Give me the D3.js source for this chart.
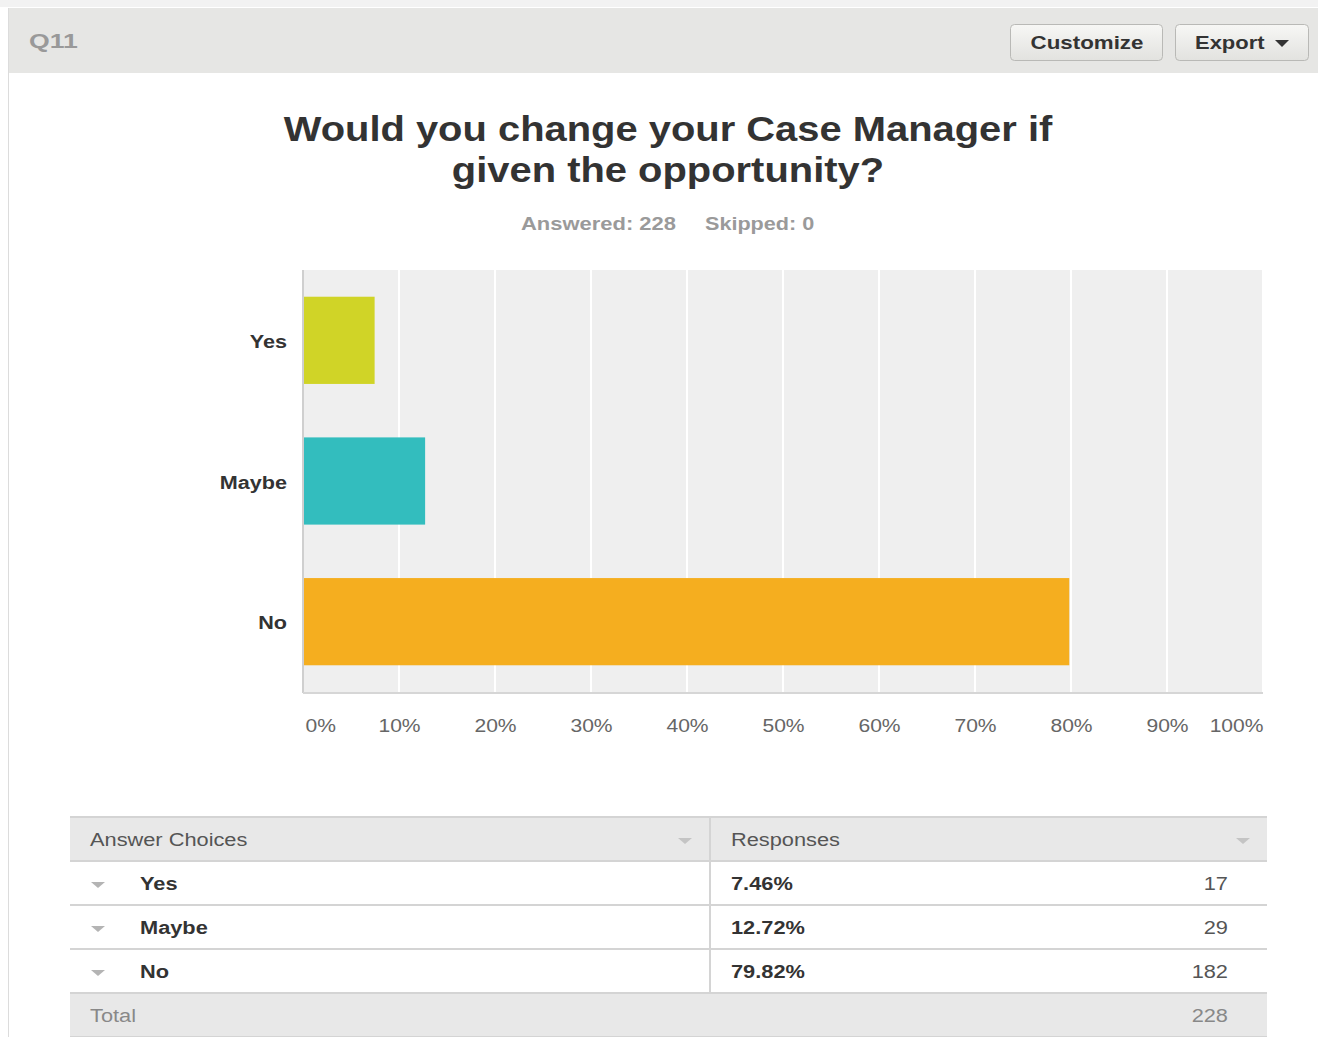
<!DOCTYPE html>
<html><head><meta charset="utf-8">
<script src="https://cdn.jsdelivr.net/npm/d3@7"></script>
<style>
html,body{margin:0;padding:0;background:#fff;}
svg{display:block;font-family:"Liberation Sans",Arial,sans-serif;}
</style></head>
<body>
<svg id="chart" width="1318" height="1037"></svg>
<script>
const categories = ["Yes", "Maybe", "No"];
const percents = [7.46, 12.72, 79.82];
const counts = [17, 29, 182];
const total = 228;
const skipped = 0;
const xTicks = [0, 10, 20, 30, 40, 50, 60, 70, 80, 90, 100];
const barColors = ["#d0d427", "#33bdbe", "#f5ae1f"];
const questionId = "Q11";
const titleLines = ["Would you change your Case Manager if", "given the opportunity?"];

const svg = d3.select("#chart");

// widen text horizontally (reference glyphs are stretched)
function stretch(sel, f){
  sel.each(function(){
    const w = this.getComputedTextLength();
    d3.select(this).attr("textLength", w*f).attr("lengthAdjust","spacingAndGlyphs");
  });
  return sel;
}

// page frame
svg.append("rect").attr("x",0).attr("y",0).attr("width",1318).attr("height",7).attr("fill","#f2f2f2");
svg.append("rect").attr("x",8).attr("y",8).attr("width",1310).attr("height",65).attr("fill","#e6e6e4");
svg.append("line").attr("x1",8.5).attr("x2",8.5).attr("y1",8).attr("y2",1037).attr("stroke","#dcdcdc");
stretch(svg.append("text").attr("x",29).attr("y",48).attr("fill","#999").attr("font-size",21).attr("font-weight","bold").text(questionId), 1.27);

// buttons
const defs = svg.append("defs");
const grad = defs.append("linearGradient").attr("id","btn").attr("x1",0).attr("x2",0).attr("y1",0).attr("y2",1);
grad.append("stop").attr("offset","0%").attr("stop-color","#f7f7f5");
grad.append("stop").attr("offset","100%").attr("stop-color","#e2e2df");
const buttons = [{label:"Customize", x:1010, w:152},{label:"Export", x:1175, w:133}];
buttons.forEach(b=>{
  svg.append("rect").attr("x",b.x+0.5).attr("y",24.5).attr("width",b.w).attr("height",36).attr("rx",4)
    .attr("fill","url(#btn)").attr("stroke","#b9b9b6");
});
stretch(svg.append("text").attr("x",1087).attr("y",49).attr("text-anchor","middle").attr("font-size",18).attr("fill","#333").attr("font-weight","bold").text("Customize"), 1.24);
stretch(svg.append("text").attr("x",1195).attr("y",49).attr("font-size",18).attr("fill","#333").attr("font-weight","bold").text("Export"), 1.22);
svg.append("path").attr("d","M1275,40 L1289,40 L1282,47 Z").attr("fill","#333");

// title
stretch(svg.append("text").attr("x",668).attr("y",141).attr("text-anchor","middle").attr("font-size",35).attr("font-weight","bold").attr("fill","#333").text(titleLines[0]), 1.14);
stretch(svg.append("text").attr("x",668).attr("y",182).attr("text-anchor","middle").attr("font-size",35).attr("font-weight","bold").attr("fill","#333").text(titleLines[1]), 1.14);
stretch(svg.append("text").attr("x",521).attr("y",230).attr("font-size",18).attr("font-weight","bold").attr("fill","#9a9a9a").text("Answered: " + total), 1.22);
stretch(svg.append("text").attr("x",705).attr("y",230).attr("font-size",18).attr("font-weight","bold").attr("fill","#9a9a9a").text("Skipped: " + skipped), 1.2);

// chart
const plot = {left:303, right:1263, top:270, bottom:692};
const x = d3.scaleLinear().domain([0,100]).range([plot.left, plot.right]);
const y = d3.scaleBand().domain(categories).range([plot.top, plot.bottom]).paddingInner(0.38).paddingOuter(0.19);

svg.append("rect").attr("x",plot.left).attr("y",plot.top).attr("width",plot.right-plot.left).attr("height",plot.bottom-plot.top).attr("fill","#efefef");
svg.append("g").selectAll("line").data(xTicks.slice(1)).join("line")
  .attr("x1",d=>x(d)).attr("x2",d=>x(d)).attr("y1",plot.top).attr("y2",plot.bottom)
  .attr("stroke","#fff").attr("stroke-width",2);

svg.append("g").selectAll("rect").data(categories).join("rect")
  .attr("x",x(0)+1).attr("y",d=>y(d))
  .attr("width",(d,i)=>x(percents[i])-x(0)-1).attr("height",y.bandwidth())
  .attr("fill",(d,i)=>barColors[i]);

// axis lines
svg.append("line").attr("x1",plot.left).attr("x2",plot.left).attr("y1",plot.top).attr("y2",plot.bottom+1).attr("stroke","#cfcfcf").attr("stroke-width",2);
svg.append("line").attr("x1",plot.left).attr("x2",plot.right).attr("y1",plot.bottom+1).attr("y2",plot.bottom+1).attr("stroke","#d6d6d6").attr("stroke-width",2);

// y labels
const yAxis = d3.axisLeft(y).tickSize(0).tickPadding(16);
const yg = svg.append("g").attr("transform",`translate(${plot.left},2)`).call(yAxis);
yg.select(".domain").remove();
stretch(yg.selectAll("text").attr("font-size",18).attr("font-weight","bold").attr("fill","#333").attr("font-family","Liberation Sans, Arial, sans-serif"), 1.2);

// x labels
const xAxis = d3.axisBottom(x).tickValues(xTicks).tickSize(0).tickPadding(0).tickFormat(d=>d+"%");
const xg = svg.append("g").attr("transform",`translate(0,${plot.bottom+40})`).call(xAxis);
xg.select(".domain").remove();
stretch(xg.selectAll("text").attr("font-size",18).attr("fill","#666").attr("font-family","Liberation Sans, Arial, sans-serif")
  .attr("dy",0)
  .attr("text-anchor",(d,i)=> i===0 ? "start" : (i===xTicks.length-1 ? "end" : "middle"))
  .attr("x",(d,i)=> i===0 ? 2 : 0), 1.17);

// table
const tbl = {left:70, right:1267, mid:710, top:817, rowH:44};
const tg = svg.append("g");
tg.append("rect").attr("x",tbl.left).attr("y",tbl.top).attr("width",tbl.right-tbl.left).attr("height",tbl.rowH).attr("fill","#e8e8e8");
tg.append("rect").attr("x",tbl.left).attr("y",tbl.top+tbl.rowH*4).attr("width",tbl.right-tbl.left).attr("height",tbl.rowH).attr("fill","#e8e8e8");
[0,1,2,3,4,5].forEach(i=>{
  tg.append("line").attr("x1",tbl.left).attr("x2",tbl.right).attr("y1",tbl.top+tbl.rowH*i).attr("y2",tbl.top+tbl.rowH*i)
    .attr("stroke","#d4d4d4").attr("stroke-width",2);
});
tg.append("line").attr("x1",tbl.mid).attr("x2",tbl.mid).attr("y1",tbl.top).attr("y2",tbl.top+tbl.rowH*4).attr("stroke","#d4d4d4").attr("stroke-width",2);

function tri(cx, cy, c){ tg.append("path").attr("d",`M${cx-7},${cy-3} L${cx+7},${cy-3} L${cx},${cy+3} Z`).attr("fill",c); }
const TF = 1.21;
stretch(tg.append("text").attr("x",90).attr("y",tbl.top+29).attr("font-size",18).attr("fill","#555").text("Answer Choices"), TF);
tri(685, tbl.top+24, "#c4c4c4");
stretch(tg.append("text").attr("x",731).attr("y",tbl.top+29).attr("font-size",18).attr("fill","#555").text("Responses"), TF);
tri(1243, tbl.top+24, "#c4c4c4");

categories.forEach((c,i)=>{
  const ry = tbl.top + tbl.rowH*(i+1);
  tri(98, ry+24, "#b4b4b4");
  stretch(tg.append("text").attr("x",140).attr("y",ry+29).attr("font-size",18).attr("font-weight","bold").attr("fill","#333").text(c), TF);
  stretch(tg.append("text").attr("x",731).attr("y",ry+29).attr("font-size",18).attr("font-weight","bold").attr("fill","#333").text(percents[i].toFixed(2)+"%"), TF);
  stretch(tg.append("text").attr("x",1228).attr("y",ry+29).attr("text-anchor","end").attr("font-size",18).attr("fill","#555").text(counts[i]), TF);
});
const ty = tbl.top + tbl.rowH*4;
stretch(tg.append("text").attr("x",90).attr("y",ty+29).attr("font-size",18).attr("fill","#888").text("Total"), TF);
stretch(tg.append("text").attr("x",1228).attr("y",ty+29).attr("text-anchor","end").attr("font-size",18).attr("fill","#888").text(total), TF);
</script>
</body></html>
